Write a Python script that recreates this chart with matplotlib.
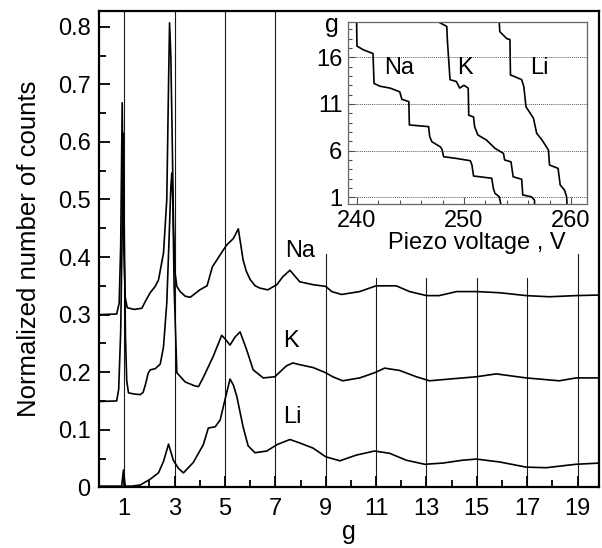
import numpy as np
import matplotlib.pyplot as plt
from matplotlib.ticker import MultipleLocator, FixedLocator

plt.rcParams['font.family'] = ['Liberation Sans', 'DejaVu Sans']

# main panel: normalized counts vs g (offset curves)
na_g = [0, 0.70, 0.80, 0.86, 0.92, 0.98, 1.04, 1.12, 1.4, 1.7, 1.84, 2.03, 2.23, 2.36, 2.56,
        2.69, 2.76, 2.80, 2.85, 2.90, 2.96, 3.02, 3.09, 3.22, 3.42, 3.62, 4.0, 4.29, 4.5, 4.68,
        4.93, 5.07, 5.33, 5.53, 5.72, 5.85, 6.0, 6.2, 6.39, 6.7, 7.06, 7.3, 7.58, 7.97, 8.5,
        9.0, 9.24, 9.63, 10.35, 11.0, 11.8, 12.33, 13.0, 13.5, 14.2, 15.0, 15.9, 16.96, 17.88,
        18.94, 19.85]
na_v = [0.300, 0.301, 0.32, 0.42, 0.668, 0.42, 0.33, 0.312, 0.309, 0.311, 0.323, 0.338, 0.349,
        0.36, 0.407, 0.50, 0.70, 0.807, 0.75, 0.62, 0.45, 0.372, 0.349, 0.34, 0.332, 0.330,
        0.343, 0.350, 0.383, 0.395, 0.412, 0.421, 0.432, 0.449, 0.395, 0.375, 0.361, 0.35,
        0.346, 0.343, 0.352, 0.366, 0.377, 0.357, 0.352, 0.349, 0.34, 0.335, 0.34, 0.35, 0.35,
        0.34, 0.333, 0.333, 0.34, 0.34, 0.338, 0.333, 0.331, 0.333, 0.334]

k_g = [0, 0.70, 0.78, 0.86, 0.92, 0.96, 1.0, 1.05, 1.1, 1.17, 1.4, 1.64, 1.75, 1.84, 1.95,
       2.03, 2.23, 2.43, 2.56, 2.69, 2.78, 2.85, 2.89, 2.93, 2.98, 3.09, 3.42, 3.81, 3.95,
       4.13, 4.53, 4.87, 5.0, 5.2, 5.4, 5.6, 5.86, 6.12, 6.52, 6.98, 7.44, 7.7, 7.97, 8.5,
       9.0, 9.28, 9.67, 10.35, 10.94, 11.34, 11.93, 12.6, 13.12, 13.9, 14.98, 15.77, 16.96,
       18.27, 18.94, 19.85]
k_v = [0.149, 0.150, 0.17, 0.27, 0.45, 0.615, 0.45, 0.26, 0.185, 0.164, 0.162, 0.161, 0.165,
       0.178, 0.198, 0.204, 0.206, 0.214, 0.244, 0.32, 0.43, 0.52, 0.546, 0.5, 0.35, 0.199,
       0.183, 0.176, 0.175, 0.19, 0.227, 0.264, 0.258, 0.247, 0.261, 0.27, 0.239, 0.204, 0.19,
       0.192, 0.211, 0.216, 0.213, 0.208, 0.199, 0.192, 0.185, 0.19, 0.199, 0.207, 0.203,
       0.192, 0.185, 0.188, 0.192, 0.197, 0.19, 0.185, 0.19, 0.19]

li_g = [0, 0.9, 0.97, 1.04, 1.3, 1.64, 2.03, 2.36, 2.56, 2.76, 2.95, 3.15, 3.35, 3.74, 4.14,
        4.34, 4.61, 4.81, 5.0, 5.2, 5.33, 5.47, 5.72, 5.92, 6.19, 6.66, 7.06, 7.58, 7.97, 8.5,
        9.0, 9.56, 10.22, 10.94, 11.54, 12.2, 12.93, 13.64, 14.43, 14.98, 15.9, 16.96, 17.75,
        18.94, 19.85]
li_v = [0.002, 0.002, 0.03, 0.002, 0.002, 0.004, 0.014, 0.025, 0.045, 0.075, 0.047, 0.033,
        0.025, 0.043, 0.074, 0.103, 0.105, 0.117, 0.152, 0.188, 0.178, 0.158, 0.105, 0.072,
        0.060, 0.063, 0.074, 0.083, 0.077, 0.068, 0.053, 0.046, 0.056, 0.063, 0.059, 0.047,
        0.04, 0.042, 0.047, 0.049, 0.044, 0.035, 0.034, 0.04, 0.042]

# inset: g vs piezo voltage
na_in_v = [239.97, 240.0, 240.6, 241.5, 241.6, 242.15, 243.1, 244.0, 244.2, 244.85, 244.9,
           246.7, 246.8, 247.0, 247.8, 247.95, 248.1, 249.2, 250.6, 250.75, 250.9, 252.6,
           252.75, 252.9, 253.3, 253.5]
na_in_g = [19.8, 17.2, 16.8, 16.4, 13.2, 12.9, 12.7, 12.3, 11.5, 11.25, 8.75, 8.57, 7.5, 6.96,
           6.4, 6.14, 5.35, 5.18, 4.92, 4.46, 3.28, 3.04, 1.96, 1.43, 1.06, 0.0]
k_in_v = [247.6, 248.4, 248.45, 248.7, 249.3, 249.6, 250.0, 250.4, 250.45, 250.9, 251.0, 251.3,
          252.1, 252.9, 253.7, 253.8, 254.4, 254.6, 255.4, 255.5, 256.3, 256.6, 256.6]
k_in_g = [19.8, 19.3, 17.9, 13.6, 13.4, 12.7, 13.0, 12.7, 9.8, 9.6, 8.57, 7.68, 7.14, 6.25,
          5.7, 5.0, 4.8, 3.2, 2.93, 1.25, 1.06, 0.7, 0.0]
li_in_v = [253.3, 253.35, 254.0, 254.3, 254.35, 254.6, 255.4, 255.6, 255.8, 256.2, 256.5,
           256.8, 257.3, 257.9, 258.0, 258.8, 259.0, 259.4, 259.6, 259.65]
li_in_g = [19.8, 18.75, 18.0, 17.9, 14.1, 14.0, 13.6, 12.85, 10.7, 10.0, 9.47, 7.86, 7.14,
           6.07, 4.46, 4.1, 2.32, 1.78, 1.06, 0.0]

grid_g = [1, 3, 5, 7, 9, 11, 13, 15, 17, 19]
grid_top = [1, 1, 1, 1, 0.49, 0.44, 0.44, 0.44, 0.44, 0.49]
inset_grid = [1, 6, 11, 16]

fig = plt.figure(figsize=(6.02, 5.48), dpi=100)
ax = fig.add_axes([0.1645, 0.1108, 0.8305, 0.8697])

for xg, top in zip(grid_g, grid_top):
    ax.axvline(xg, ymin=0, ymax=top, color='0.1', lw=0.8, zorder=1)

ax.plot(na_g, na_v, color='black', lw=1.2, zorder=2)
ax.plot(k_g, k_v, color='black', lw=1.2, zorder=2)
ax.plot(li_g, li_v, color='black', lw=1.2, zorder=2)

ax.text(7.38, 0.392, 'Na', fontsize=17, ha='left', va='bottom')
ax.text(7.3, 0.235, 'K', fontsize=17, ha='left', va='bottom')
ax.text(7.3, 0.103, 'Li', fontsize=17, ha='left', va='bottom')

ax.set_xlim(0, 19.85)
ax.set_ylim(0, 0.828)
ax.xaxis.set_major_locator(FixedLocator(grid_g))
ax.xaxis.set_minor_locator(MultipleLocator(1))
ax.yaxis.set_major_locator(MultipleLocator(0.1))
ax.yaxis.set_minor_locator(MultipleLocator(0.05))
ax.set_yticklabels(['0' if abs(t) < 1e-9 else f'{t:.1f}' for t in ax.get_yticks()])
ax.tick_params(which='both', direction='in', width=1.3, labelsize=17, top=False, right=False)
ax.tick_params(axis='x', which='major', length=8, pad=8)
ax.tick_params(axis='x', which='minor', length=5)
ax.tick_params(axis='y', which='major', length=8, pad=6)
ax.tick_params(axis='y', which='minor', length=5)
for s in ax.spines.values():
    s.set_linewidth(1.6)
ax.set_xlabel('g', fontsize=18, labelpad=0)
ax.set_ylabel('Normalized number of counts', fontsize=18.5, labelpad=12)

# inset
axi = fig.add_axes([0.578, 0.6277, 0.397, 0.3313])
for yg in inset_grid:
    axi.axhline(yg, color='0.35', lw=0.7, ls=(0, (1, 1)), zorder=1)
axi.plot(na_in_v, na_in_g, color='black', lw=1.2)
axi.plot(k_in_v, k_in_g, color='black', lw=1.2)
axi.plot(li_in_v, li_in_g, color='black', lw=1.2)
axi.text(242.5, 13.7, 'Na', fontsize=17, ha='left', va='bottom')
axi.text(249.4, 13.7, 'K', fontsize=17, ha='left', va='bottom')
axi.text(256.2, 13.7, 'Li', fontsize=17, ha='left', va='bottom')
axi.set_xlim(239.16, 261.5)
axi.set_ylim(0.28, 19.73)
axi.xaxis.set_major_locator(FixedLocator([240, 250, 260]))
axi.xaxis.set_minor_locator(MultipleLocator(2))
axi.yaxis.set_major_locator(FixedLocator(inset_grid))
axi.yaxis.set_minor_locator(MultipleLocator(1))
axi.tick_params(which='both', direction='in', width=0.8, labelsize=17, top=False, right=False,
                color='0.3')
axi.tick_params(which='major', length=5, pad=4)
axi.tick_params(which='minor', length=3)
for s in axi.spines.values():
    s.set_linewidth(0.9)
    s.set_color('0.4')
axi.set_xlabel('Piezo voltage , V', fontsize=17, labelpad=2)
axi.xaxis.set_label_coords(0.54, -0.155)
axi.text(-0.04, 0.985, 'g', transform=axi.transAxes, fontsize=18, ha='right', va='center')

plt.savefig('out.png', dpi=100)
